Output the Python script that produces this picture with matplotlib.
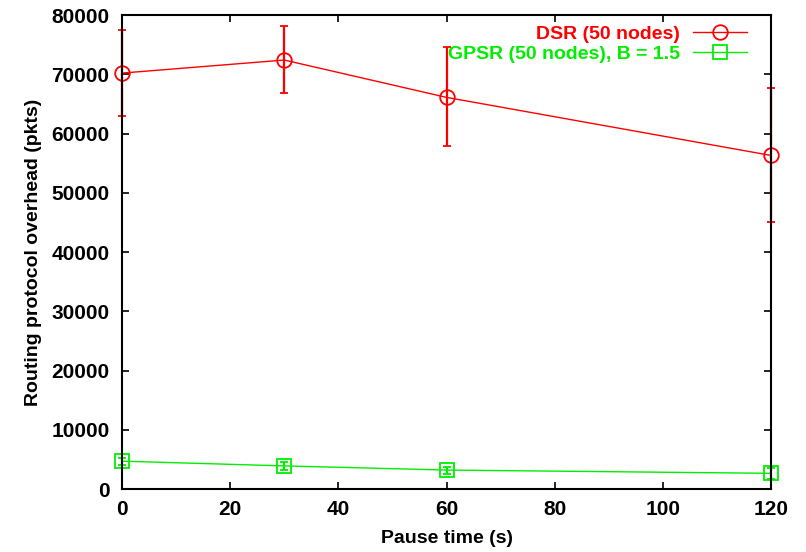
import matplotlib
matplotlib.use("Agg")
import matplotlib.pyplot as plt

plt.rcParams["font.family"] = ["Liberation Sans", "DejaVu Sans"]
plt.rcParams["font.weight"] = "bold"

# pause time (s)
pause = [0, 30, 60, 120]

# DSR routing overhead with lower / upper bounds
dsr_mean = [70200, 72400, 66100, 56300]
dsr_low = [62900, 66800, 57900, 45000]
dsr_high = [77500, 78100, 74600, 67700]

# GPSR routing overhead with lower / upper bounds
gpsr_mean = [4700, 3900, 3200, 2650]
gpsr_low = [4050, 3200, 2550, 1700]
gpsr_high = [5200, 4500, 3750, 3500]

RED = "#ff0000"
GREEN = "#00ee00"


def _err(mean, low, high):
    return [[m - l for m, l in zip(mean, low)], [h - m for m, h in zip(mean, high)]]


fig = plt.figure(figsize=(8.06, 5.52), dpi=100)
ax = fig.add_axes([0.1514, 0.1141, 0.8052, 0.8587])

series = [
    (dsr_mean, dsr_low, dsr_high, RED, "o", "DSR (50 nodes)"),
    (gpsr_mean, gpsr_low, gpsr_high, GREEN, "s", "GPSR (50 nodes), B = 1.5"),
]
handles = []
for mean, low, high, col, mk, lab in series:
    line, caps, bars = ax.errorbar(pause, mean, yerr=_err(mean, low, high),
                                   color=col, lw=1, marker=mk, ms=10.5,
                                   mfc="none", mew=1.3, capsize=3,
                                   elinewidth=1.6, capthick=1.3, label=lab)
    for a in [line, *caps, *bars]:
        a.set_clip_on(False)
    handles.append(line)

ax.set_xlim(0, 120)
ax.set_ylim(0, 80000)
ax.set_xticks(range(0, 121, 20))
ax.set_yticks(range(0, 80001, 10000))
ax.tick_params(direction="in", top=True, right=True, length=5, width=1.2,
               labelsize=15)
ax.tick_params(axis="y", pad=9)
ax.tick_params(axis="x", pad=8)
for s in ax.spines.values():
    s.set_linewidth(1.5)

ax.set_xlabel("Pause time (s)", fontsize=14, fontweight="bold", labelpad=8)
ax.set_ylabel("Routing protocol overhead (pkts)", fontsize=14,
              fontweight="bold", labelpad=7)

# line + marker only in the key, no error bars
leg = ax.legend(handles=handles, labels=[s[-1] for s in series],
                loc="upper right", bbox_to_anchor=(0.963, 0.978),
                frameon=False, markerfirst=False, fontsize=14,
                handlelength=2.8, borderaxespad=0, borderpad=0,
                labelspacing=0.12, handletextpad=0.65)
for txt, c in zip(leg.get_texts(), [RED, GREEN]):
    txt.set_color(c)
    txt.set_fontweight("bold")

fig.savefig("out.png", dpi=100)
